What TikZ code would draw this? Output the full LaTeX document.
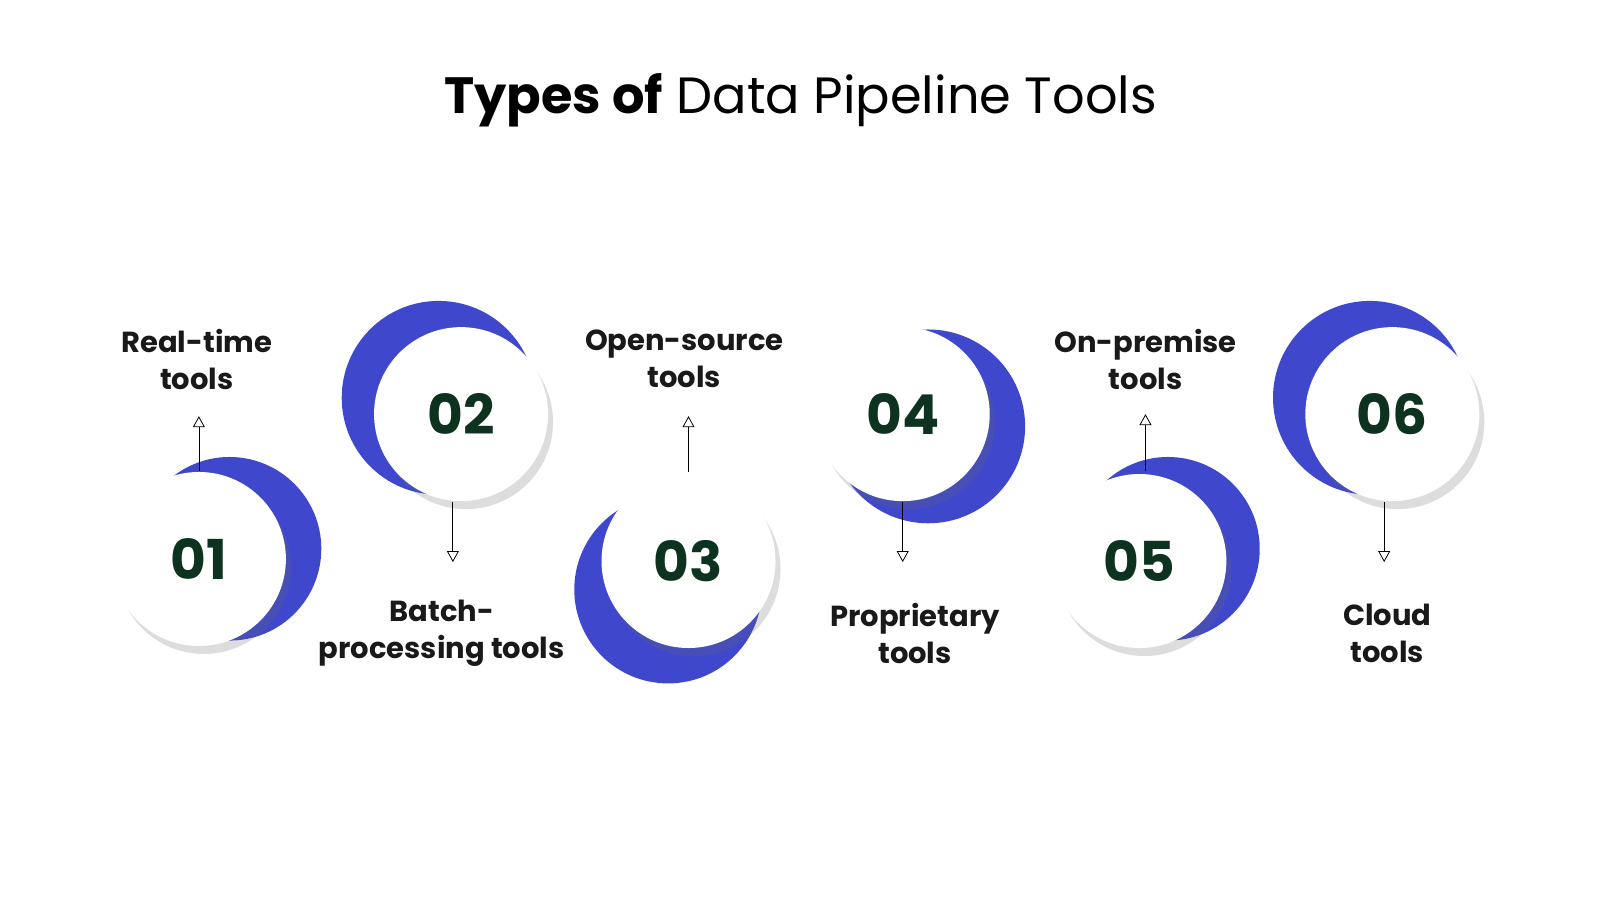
\documentclass[tikz,border=0pt]{standalone}
\usepackage{fontspec}
\setmainfont{Poppins}
\usetikzlibrary{shadows,arrows.meta}
\definecolor{pblue}{HTML}{3F48CC}
\definecolor{ptext}{HTML}{0D3320}
\tikzset{
  white disc/.style={circle,fill=white,minimum size=174pt,inner sep=0pt,text=ptext,
    font=\fontsize{55}{55}\selectfont\bfseries,
    drop shadow={shadow xshift=5pt,shadow yshift=-8pt,opacity=0.22,fill=black!60}},
  lbl/.style={align=center,font=\fontsize{29}{37}\selectfont\bfseries,text=black!90},
  conn/.style={-{Triangle[open,length=11pt,width=12pt]},line width=0.8pt}
}
\begin{document}
\begin{tikzpicture}[x=1.02pt,y=-1.02pt]
\useasboundingbox (0,0) rectangle (1568.6,882.35);
\node[font=\fontsize{51}{60}\selectfont] (title) at (785,98) {\textbf{Types of} Data Pipeline Tools};
% blue crescents
\fill[pblue] (225,538) circle (90);
\fill[pblue] (430,390) circle (95);
\fill[pblue] (655,578) circle (92);
\fill[pblue] (910,418) circle (95);
\fill[pblue] (1145,538) circle (90);
\fill[pblue] (1343,390) circle (95);
% white discs
\node[white disc] (n1) at (195,548) {01};
\node[white disc] (n2) at (452,406) {02};
\node[white disc] (n3) at (675,550) {03};
\node[white disc] (n4) at (885,406) {04};
\node[white disc] (n5) at (1117,550) {05};
\node[white disc] (n6) at (1365,406) {06};
% labels
\node[lbl] (l1) at (193,352) {Real-time\\tools};
\node[lbl] (l2) at (433,621) {Batch-\\processing tools};
\node[lbl] (l3) at (671,352) {Open-source\\tools};
\node[lbl] (l4) at (897,621) {Proprietary\\tools};
\node[lbl] (l5) at (1123,352) {On-premise\\tools};
\node[lbl] (l6) at (1360,621) {Cloud\\tools};
% arrows
\coordinate (a1s) at (195,462); \coordinate (a1e) at (195,408);
\coordinate (a2s) at (444,492); \coordinate (a2e) at (444,551);
\coordinate (a3s) at (675,463); \coordinate (a3e) at (675,408);
\coordinate (a4s) at (885,492); \coordinate (a4e) at (885,551);
\coordinate (a5s) at (1123,462); \coordinate (a5e) at (1123,406);
\coordinate (a6s) at (1357,492); \coordinate (a6e) at (1357,551);
\draw[conn] (a1s) -- (a1e);
\draw[conn] (a2s) -- (a2e);
\draw[conn] (a3s) -- (a3e);
\draw[conn] (a4s) -- (a4e);
\draw[conn] (a5s) -- (a5e);
\draw[conn] (a6s) -- (a6e);
\end{tikzpicture}
\end{document}
